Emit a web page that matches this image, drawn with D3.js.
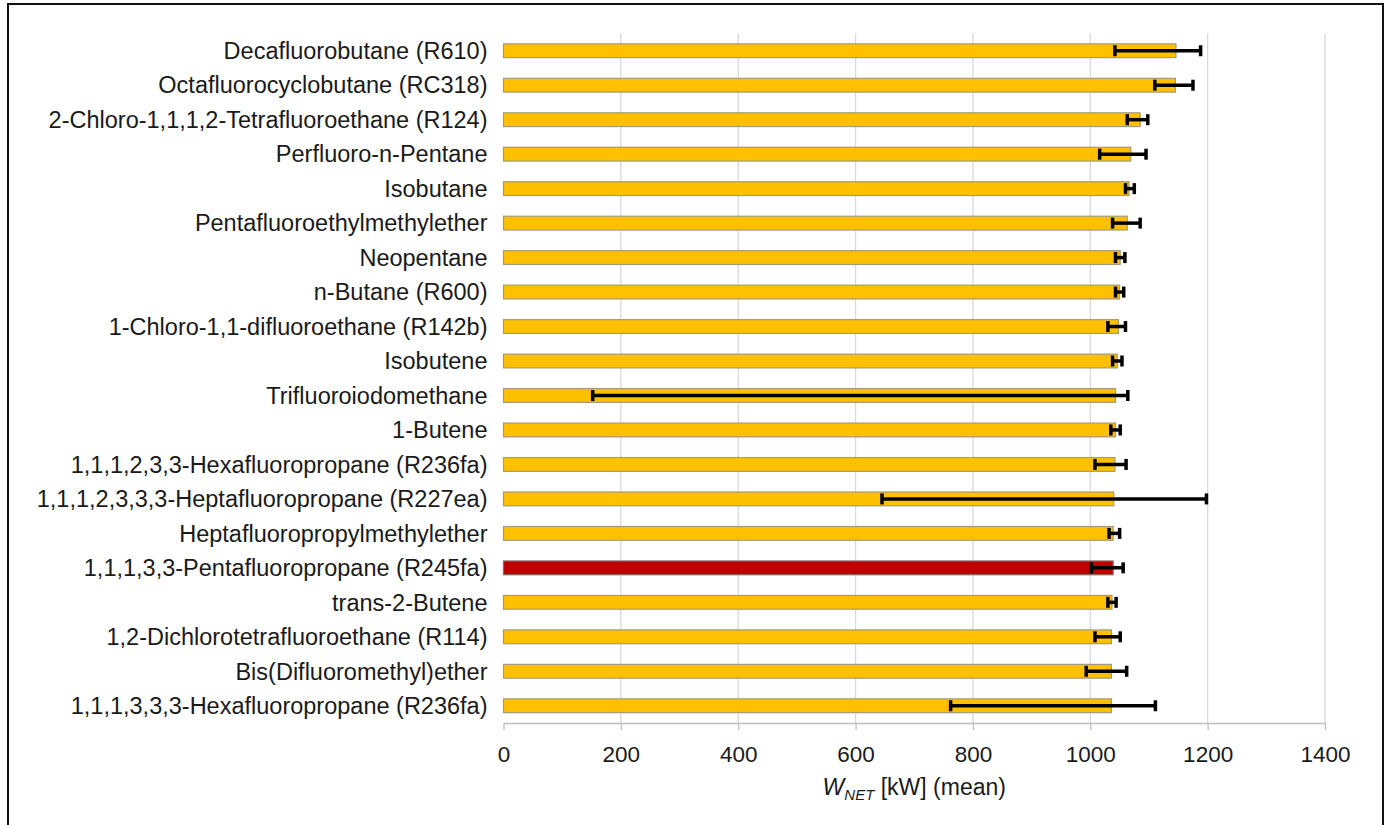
<!DOCTYPE html>
<html>
<head>
<meta charset="utf-8">
<script src="https://cdn.jsdelivr.net/npm/d3@7"></script>
<style>
  html, body { margin: 0; padding: 0; background: #fff; }
  svg { display: block; }
  text { font-family: "Liberation Sans", Arial, sans-serif; fill: #1a1a1a; }
</style>
</head>
<body>
<svg id="chart" width="1389" height="825"></svg>
<script>
// Working fluids, ordered by mean net power output
const fluids = [
  "Decafluorobutane (R610)",
  "Octafluorocyclobutane (RC318)",
  "2-Chloro-1,1,1,2-Tetrafluoroethane (R124)",
  "Perfluoro-n-Pentane",
  "Isobutane",
  "Pentafluoroethylmethylether",
  "Neopentane",
  "n-Butane (R600)",
  "1-Chloro-1,1-difluoroethane (R142b)",
  "Isobutene",
  "Trifluoroiodomethane",
  "1-Butene",
  "1,1,1,2,3,3-Hexafluoropropane (R236fa)",
  "1,1,1,2,3,3,3-Heptafluoropropane (R227ea)",
  "Heptafluoropropylmethylether",
  "1,1,1,3,3-Pentafluoropropane (R245fa)",
  "trans-2-Butene",
  "1,2-Dichlorotetrafluoroethane (R114)",
  "Bis(Difluoromethyl)ether",
  "1,1,1,3,3,3-Hexafluoropropane (R236fa)"
];

// Mean W_NET [kW]
const meanPower = [1146, 1145, 1085, 1069, 1066, 1063, 1051, 1050, 1048, 1046,
                   1043, 1043, 1042, 1040, 1039, 1039, 1037, 1036, 1036, 1036];

// Error bar ends [kW]
const errLow  = [1042, 1110, 1063, 1016, 1060, 1038, 1043, 1043, 1030, 1038,
                 152, 1035, 1008, 645, 1032, 1002, 1030, 1008, 993, 762];
const errHigh = [1188, 1175, 1098, 1095, 1075, 1085, 1059, 1057, 1060, 1054,
                 1064, 1051, 1061, 1198, 1050, 1056, 1044, 1051, 1062, 1111];

// Reference fluid drawn in red
const referenceFluid = "1,1,1,3,3-Pentafluoropropane (R245fa)";

const xTicks = [0, 200, 400, 600, 800, 1000, 1200, 1400];

const rows = fluids.map((name, i) => ({
  name, mean: meanPower[i], lo: errLow[i], hi: errHigh[i]
}));

const svg = d3.select("#chart");
const margin = { left: 503.5, right: 1325, top: 33.5, bottom: 723 };

// Outer frame
svg.append("rect")
  .attr("x", 8).attr("y", 4)
  .attr("width", 1375).attr("height", 840)
  .attr("fill", "none").attr("stroke", "#111").attr("stroke-width", 2);

const x = d3.scaleLinear().domain([0, 1400]).range([margin.left, margin.right]);
const y = d3.scaleBand().domain(fluids)
  .range([margin.top, margin.bottom])
  .paddingInner(0.6).paddingOuter(0.3);

// Vertical gridlines
svg.append("g")
  .selectAll("line")
  .data(xTicks.slice(1))
  .join("line")
  .attr("x1", d => x(d)).attr("x2", d => x(d))
  .attr("y1", margin.top).attr("y2", margin.bottom)
  .attr("stroke", "#d9d9d9").attr("stroke-width", 1.3);

// Bottom axis
const xAxis = svg.append("g")
  .attr("transform", `translate(0,${margin.bottom})`)
  .call(d3.axisBottom(x).tickValues(xTicks).tickFormat(d3.format("d"))
    .tickSize(7).tickPadding(16).tickSizeOuter(0));
xAxis.select(".domain").attr("stroke", "#bfbfbf").attr("stroke-width", 1.3);
xAxis.selectAll(".tick line").attr("stroke", "#bfbfbf").attr("stroke-width", 1.3);
xAxis.selectAll(".tick text")
  .attr("font-size", 22.5)
  .attr("font-family", "Liberation Sans, Arial, sans-serif")
  .attr("fill", "#1a1a1a");

// Category labels
svg.append("g")
  .selectAll("text")
  .data(rows)
  .join("text")
  .attr("x", margin.left - 16)
  .attr("y", d => y(d.name) + y.bandwidth() / 2)
  .attr("dy", "0.35em")
  .attr("text-anchor", "end")
  .attr("font-size", 23.5)
  .text(d => d.name);

// Bars
svg.append("g")
  .selectAll("rect")
  .data(rows)
  .join("rect")
  .attr("x", x(0))
  .attr("y", d => y(d.name))
  .attr("width", d => x(d.mean) - x(0))
  .attr("height", y.bandwidth())
  .attr("fill", d => d.name === referenceFluid ? "#c00000" : "#ffc000")
  .attr("stroke", d => d.name === referenceFluid ? "#8a6a6a" : "#a39a7a")
  .attr("stroke-width", 1.2);

// Error bars
const err = svg.append("g").attr("stroke", "#000");
err.selectAll("line.whisker")
  .data(rows)
  .join("line")
  .attr("class", "whisker")
  .attr("x1", d => x(d.lo)).attr("x2", d => x(d.hi))
  .attr("y1", d => y(d.name) + y.bandwidth() / 2)
  .attr("y2", d => y(d.name) + y.bandwidth() / 2)
  .attr("stroke-width", 3.5);
["lo", "hi"].forEach(k => {
  err.selectAll(`line.cap-${k}`)
    .data(rows)
    .join("line")
    .attr("class", `cap-${k}`)
    .attr("x1", d => x(d[k])).attr("x2", d => x(d[k]))
    .attr("y1", d => y(d.name) + y.bandwidth() / 2 - 5.5)
    .attr("y2", d => y(d.name) + y.bandwidth() / 2 + 5.5)
    .attr("stroke-width", 3.5);
});

// Axis title: W_NET [kW] (mean)
const title = svg.append("text")
  .attr("x", (margin.left + margin.right) / 2)
  .attr("y", 795)
  .attr("text-anchor", "middle")
  .attr("font-size", 23);
title.append("tspan").attr("font-style", "italic").text("W");
title.append("tspan").attr("font-style", "italic").attr("font-size", 15).attr("dy", 5).text("NET");
title.append("tspan").attr("dy", -5).text(" [kW] (mean)");
</script>
</body>
</html>
